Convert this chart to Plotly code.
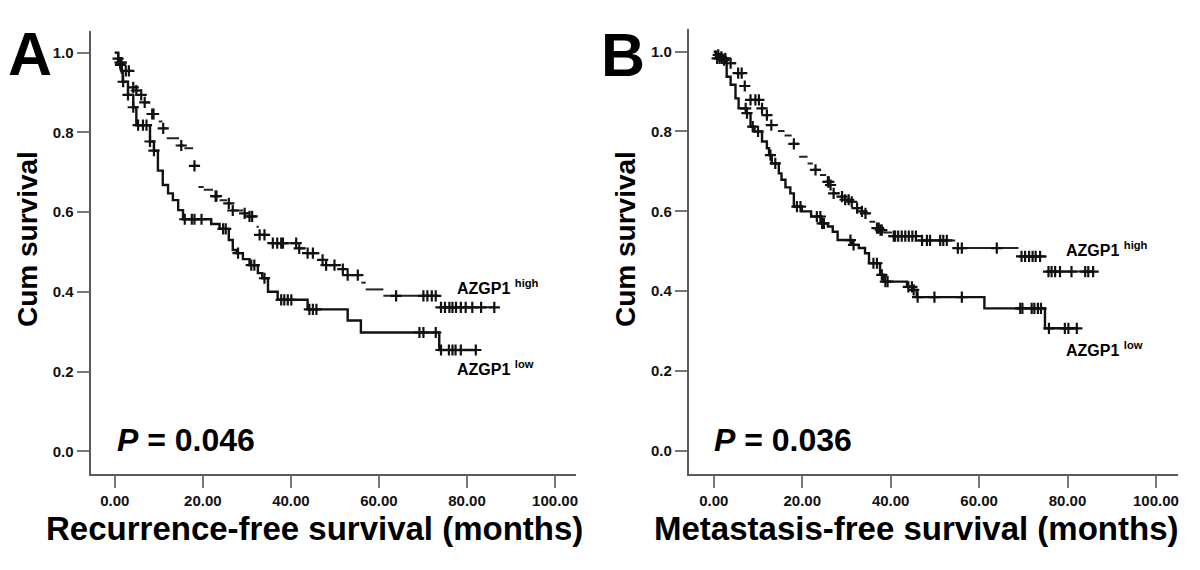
import plotly.graph_objects as go

# ---------------- Panel A: Recurrence-free survival ----------------
a_low_time = [0, 0.8, 1.6, 1.8, 3.0, 4.2, 4.9, 8.0, 8.9, 9.8, 10.9, 12.1, 13.2, 14.4, 15.5, 21.9, 23.8,
              25.9, 26.8, 27.7, 29.1, 30.6, 32.5, 33.5, 34.8, 37.0, 43.8, 52.9, 55.9, 73.7]
a_low_surv = [1.0, 0.975, 0.95, 0.927, 0.894, 0.863, 0.818, 0.777, 0.754, 0.704, 0.668, 0.647, 0.630, 0.605,
              0.582, 0.570, 0.558, 0.530, 0.505, 0.497, 0.482, 0.467, 0.447, 0.434, 0.400, 0.380, 0.356,
              0.328, 0.298, 0.254]
a_low_end = 82.0
a_low_cens = [1.2, 1.5, 1.9, 3.0, 4.2, 5.3, 6.4, 7.2, 8.0, 8.9, 15.9, 17.5, 18.1, 19.7, 24.6, 25.2, 28.0,
              31.0, 31.7, 34.0, 37.8, 38.5, 39.3, 40.1, 44.2, 45.0, 45.8, 69.2, 70.1, 72.9, 74.1, 75.9,
              76.7, 77.4, 78.6, 82.0]

a_high_time = [0, 0.4, 1.0, 2.0, 3.8, 4.5, 5.6, 6.5, 8.0, 10.0, 10.8, 11.8, 14.6, 15.8, 17.8, 19.0, 20.2,
               22.3, 23.8, 25.5, 26.5, 29.2, 30.3, 32.2, 32.7, 35.0, 41.6, 43.4, 46.5, 47.7, 51.4, 52.5,
               56.0, 57.0, 61.0, 73.7]
a_high_surv = [1.0, 0.985, 0.969, 0.954, 0.913, 0.905, 0.894, 0.875, 0.846, 0.827, 0.810, 0.785, 0.767,
               0.760, 0.716, 0.663, 0.656, 0.640, 0.630, 0.622, 0.604, 0.597, 0.589, 0.563, 0.543, 0.522,
               0.509, 0.497, 0.480, 0.467, 0.457, 0.442, 0.423, 0.406, 0.390, 0.361]
a_high_end = 86.2
a_high_cens = [0.75, 1.3, 2.5, 3.2, 4.2, 4.9, 6.0, 6.8, 8.5, 8.8, 11.0, 15.1, 18.1, 22.9, 23.1, 25.9, 26.8,
               29.5, 30.6, 31.2, 32.9, 34.0, 35.9, 36.9, 37.8, 38.2, 41.2, 41.9, 43.8, 45.0, 47.2, 48.0,
               49.9, 51.8, 52.9, 55.2, 63.9, 70.1, 71.0, 72.0, 72.9, 74.1, 75.0, 76.0, 76.7, 77.5, 78.6,
               79.7, 81.2, 83.2, 86.2]

# ---------------- Panel B: Metastasis-free survival ----------------
b_low_time = [0, 0.5, 2.9, 3.8, 4.9, 5.6, 7.3, 8.3, 9.2, 10.9, 12.0, 12.5, 13.1, 14.7, 15.3, 16.2, 17.3,
              18.1, 19.9, 22.0, 24.3, 25.8, 26.9, 28.0, 31.3, 32.8, 34.2, 35.1, 37.6, 38.4, 43.7, 45.1,
              45.9, 61.2, 74.9]
b_low_surv = [1.0, 0.983, 0.937, 0.917, 0.883, 0.858, 0.846, 0.812, 0.800, 0.775, 0.758, 0.741, 0.720,
              0.695, 0.679, 0.660, 0.645, 0.612, 0.600, 0.587, 0.570, 0.562, 0.549, 0.528, 0.516, 0.508,
              0.495, 0.470, 0.441, 0.424, 0.411, 0.403, 0.385, 0.357, 0.307]
b_low_end = 82.1
b_low_cens = [0.75, 1.3, 1.8, 2.6, 7.2, 7.5, 8.8, 10.0, 12.8, 13.9, 18.8, 19.6, 23.3, 24.1, 24.5, 24.9,
              30.9, 31.6, 36.1, 36.9, 38.0, 38.8, 39.3, 44.0, 44.8, 45.2, 46.1, 49.9, 56.1, 69.3, 69.8,
              71.9, 72.5, 73.3, 74.0, 75.8, 79.4, 80.2, 82.1]

b_high_time = [0, 0.8, 1.5, 2.0, 3.3, 5.0, 6.6, 8.0, 10.6, 11.5, 12.6, 14.5, 16.0, 17.6, 19.3, 21.2, 22.4,
               24.0, 25.4, 26.3, 26.8, 28.5, 29.4, 30.8, 32.0, 33.2, 34.0, 35.2, 36.5, 37.5, 38.3, 40.3,
               46.3, 54.6, 68.9, 75.3]
b_high_surv = [1.0, 0.992, 0.987, 0.979, 0.971, 0.946, 0.914, 0.879, 0.858, 0.841, 0.816, 0.801, 0.790,
               0.769, 0.737, 0.720, 0.704, 0.691, 0.674, 0.666, 0.645, 0.637, 0.629, 0.624, 0.608, 0.600,
               0.595, 0.574, 0.558, 0.553, 0.547, 0.538, 0.527, 0.508, 0.487, 0.449]
b_high_end = 85.8
b_high_cens = [1.0, 1.7, 2.3, 3.8, 5.5, 6.3, 7.0, 8.3, 9.4, 10.2, 10.9, 12.0, 13.0, 18.1, 23.0, 25.8, 26.0,
               26.4, 27.1, 29.0, 29.7, 30.5, 31.2, 32.4, 33.5, 34.3, 36.9, 37.3, 37.7, 38.0, 40.7, 41.0,
               41.7, 42.5, 43.3, 44.1, 44.9, 45.7, 47.1, 48.2, 48.9, 51.2, 51.9, 52.7, 55.2, 56.1, 64.0,
               69.6, 70.4, 71.3, 72.1, 72.8, 73.8, 75.7, 76.4, 77.2, 78.3, 80.9, 84.0, 84.7, 85.8]

x_tickvals = [0, 20, 40, 60, 80, 100]
x_ticktext = ["0.00", "20.00", "40.00", "60.00", "80.00", "100.00"]
y_tickvals = [0.0, 0.2, 0.4, 0.6, 0.8, 1.0]
y_ticktext = ["0.0", "0.2", "0.4", "0.6", "0.8", "1.0"]

FONT = "Liberation Sans, Arial, Helvetica, sans-serif"
OFF = 8                      # page body margin
W, H = 1200 - OFF, 570 - OFF


def px_x(x):
    return (x - OFF) / W


def px_y(y):
    return 1 - (y - OFF) / H


def surv_at(times, surv, t):
    s = surv[0]
    for ti, si in zip(times, surv):
        if ti <= t:
            s = si
    return s


def step_trace(times, surv, end, xa, ya):
    return go.Scatter(x=list(times) + [end], y=list(surv) + [surv[-1]], mode="lines",
                      line=dict(shape="hv", color="#111111", width=2.4),
                      xaxis=xa, yaxis=ya, showlegend=False, hoverinfo="skip")


def segment_trace(times, surv, end, xa, ya):
    xs, ys = [], []
    bounds = list(times[1:]) + [end]
    for t0, t1, s in zip(times, bounds, surv):
        xs += [t0, t1, None]
        ys += [s, s, None]
    return go.Scatter(x=xs, y=ys, mode="lines", line=dict(color="#222222", width=2),
                      xaxis=xa, yaxis=ya, showlegend=False, hoverinfo="skip")


def censor_trace(times, surv, cens, xa, ya):
    return go.Scatter(x=cens, y=[surv_at(times, surv, c) for c in cens], mode="markers",
                      marker=dict(symbol="cross-thin", size=8, line=dict(color="#111111", width=2.2)),
                      xaxis=xa, yaxis=ya, showlegend=False, hoverinfo="skip")


fig = go.Figure()
fig.add_trace(segment_trace(a_high_time, a_high_surv, a_high_end, "x", "y"))
fig.add_trace(censor_trace(a_high_time, a_high_surv, a_high_cens, "x", "y"))
fig.add_trace(step_trace(a_low_time, a_low_surv, a_low_end, "x", "y"))
fig.add_trace(censor_trace(a_low_time, a_low_surv, a_low_cens, "x", "y"))

fig.add_trace(segment_trace(b_high_time, b_high_surv, b_high_end, "x2", "y2"))
fig.add_trace(censor_trace(b_high_time, b_high_surv, b_high_cens, "x2", "y2"))
fig.add_trace(step_trace(b_low_time, b_low_surv, b_low_end, "x2", "y2"))
fig.add_trace(censor_trace(b_low_time, b_low_surv, b_low_cens, "x2", "y2"))

axis_common = dict(showgrid=False, zeroline=False, showline=True, linecolor="#5a5a5a", linewidth=2,
                   ticks="outside", ticklen=12, tickwidth=2, tickcolor="#777777", mirror=False,
                   tickfont=dict(family=FONT, size=15, color="#111111", weight="bold"), fixedrange=True)

fig.update_layout(
    width=W, height=H, margin=dict(l=0, r=0, t=0, b=0),
    paper_bgcolor="white", plot_bgcolor="white", showlegend=False,
    xaxis=dict(domain=[px_x(90.7), px_x(576.7)], range=[-5.5, 104.7], anchor="y",
               tickvals=x_tickvals, ticktext=x_ticktext, **axis_common),
    yaxis=dict(domain=[px_y(474), px_y(30.7)], range=[-0.057, 1.055], anchor="x",
               tickvals=y_tickvals, ticktext=y_ticktext, **axis_common),
    xaxis2=dict(domain=[px_x(690), px_x(1180)], range=[-5.65, 105.0], anchor="y2",
                tickvals=x_tickvals, ticktext=x_ticktext, **axis_common),
    yaxis2=dict(domain=[px_y(474), px_y(29.3)], range=[-0.058, 1.056], anchor="x2",
                tickvals=y_tickvals, ticktext=y_ticktext, **axis_common),
)


def px_ann(text, x, y, size, xanchor="center", yanchor="middle", angle=0):
    fig.add_annotation(text=text, x=px_x(x), y=px_y(y), xref="paper", yref="paper",
                       xanchor=xanchor, yanchor=yanchor, showarrow=False, textangle=angle,
                       font=dict(family=FONT, size=size, color="#000000", weight="bold"))


# panel letters
px_ann("A", 30.5, 54, 61)
px_ann("B", 624, 55, 61)
# y axis titles
px_ann("Cum survival", 28, 239, 28, angle=-90)
px_ann("Cum survival", 627, 239, 28, angle=-90)
# x axis titles
px_ann("Recurrence-free survival (months)", 315, 528, 33)
px_ann("Metastasis-free survival (months)", 918, 528, 33)
# p values
px_ann("<i>P</i> = 0.046", 115, 440, 32, xanchor="left")
px_ann("<i>P</i> = 0.036", 713, 440, 32, xanchor="left")
# group labels
px_ann("AZGP1 <sup>high</sup>", 456, 287, 16, xanchor="left")
px_ann("AZGP1 <sup>low</sup>", 456, 368, 16, xanchor="left")
px_ann("AZGP1 <sup>high</sup>", 1065.7, 248.5, 16, xanchor="left")
px_ann("AZGP1 <sup>low</sup>", 1065.7, 348.5, 16, xanchor="left")

fig.write_html("out.html")
